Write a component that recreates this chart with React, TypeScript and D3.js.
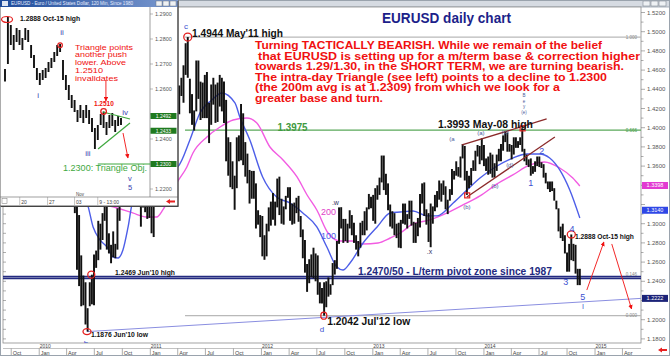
import React from 'react';
import * as d3 from 'd3';

const FONT = "'Liberation Sans', Arial, Helvetica, sans-serif";

// ---------- main chart: weekly high / low of EURUSD ----------
const start2009 = '2009-09-07';
const high2009 = [1.4630,1.4770,1.4844,1.4700,1.4840,1.4970,1.5060,1.5050,1.4950,1.5050,1.5000,1.5144,1.5100,1.4880,1.4700,1.4420,1.4510];
const low2009 = [1.4350,1.4530,1.4580,1.4480,1.4620,1.4760,1.4850,1.4630,1.4700,1.4850,1.4830,1.4830,1.4950,1.4600,1.4300,1.4220,1.4250];

const start2010 = '2010-01-04';
const high2010 = [1.4450,1.4580,1.4420,1.4180,1.4010,1.3790,1.3780,1.3690,1.3690,1.3790,1.3820,1.3650,1.3590,1.3650,1.3690,1.3520,1.3380,1.3310,1.3090,1.2670,1.2460,1.2390,1.2120,1.2390,1.2469,1.2680,1.2720,1.3030,1.3000,1.3110,1.3333,1.3280,1.2900,1.2780,1.2920,1.2790,1.3160,1.3540,1.3790,1.4030,1.4160,1.4030,1.3970,1.4282,1.4130,1.3790,1.3790,1.3440,1.3460,1.3440,1.3240,1.3440];
const low2010 = [1.4250,1.4370,1.4030,1.3860,1.3630,1.3580,1.3440,1.3440,1.3500,1.3600,1.3530,1.3270,1.3390,1.3290,1.3420,1.3310,1.3110,1.2520,1.2350,1.2140,1.2150,1.1950,1.1876,1.2140,1.2160,1.2150,1.2540,1.2620,1.2730,1.2830,1.3030,1.2730,1.2690,1.2588,1.2650,1.2640,1.2730,1.3030,1.3500,1.3760,1.3820,1.3700,1.3700,1.3860,1.3650,1.3450,1.3230,1.2969,1.3170,1.3120,1.3050,1.3060];

const start2011 = '2011-01-03';
const high2011 = [1.3440,1.3460,1.3710,1.3760,1.3860,1.3730,1.3700,1.3830,1.4030,1.4070,1.4240,1.4250,1.4260,1.4440,1.4520,1.4650,1.4880,1.4944,1.4510,1.4350,1.4180,1.4700,1.4700,1.4480,1.4470,1.4550,1.4580,1.4260,1.4450,1.4520,1.4450,1.4470,1.4550,1.4520,1.4480,1.4290,1.3900,1.3850,1.3650,1.3500,1.3900,1.3920,1.4247,1.4150,1.3850,1.3730,1.3560,1.3550,1.3550,1.3420,1.3140,1.3090];
const low2011 = [1.2900,1.2861,1.3280,1.3530,1.3550,1.3440,1.3430,1.3480,1.3640,1.3820,1.3740,1.4030,1.4000,1.4140,1.4330,1.4260,1.4550,1.4520,1.4150,1.4030,1.3970,1.4170,1.4300,1.4080,1.4100,1.4100,1.4100,1.3840,1.4030,1.4240,1.4050,1.4060,1.4220,1.4170,1.4050,1.3650,1.3500,1.3380,1.3360,1.3145,1.3370,1.3650,1.3660,1.3610,1.3490,1.3420,1.3210,1.3260,1.3260,1.2950,1.2990,1.2860];

const start2012 = '2012-01-02';
const high2012 = [1.3080,1.2880,1.3000,1.3170,1.3230,1.3320,1.3230,1.3470,1.3490,1.3260,1.3180,1.3290,1.3380,1.3380,1.3210,1.3220,1.3270,1.3290,1.3080,1.2940,1.2830,1.2580,1.2630,1.2680,1.2750,1.2690,1.2670,1.2390,1.2330,1.2390,1.2400,1.2440,1.2370,1.2590,1.2620,1.2820,1.3170,1.3172,1.3050,1.3050,1.3000,1.3140,1.3090,1.3010,1.2880,1.2820,1.3010,1.3030,1.3130,1.3170,1.3310,1.3280];
const low2012 = [1.2660,1.2624,1.2660,1.2920,1.2980,1.3040,1.2980,1.3170,1.3090,1.3000,1.2990,1.3150,1.3270,1.3030,1.2990,1.3000,1.3110,1.3020,1.2860,1.2640,1.2490,1.2290,1.2380,1.2440,1.2430,1.2400,1.2260,1.2170,1.2170,1.2042,1.2130,1.2240,1.2260,1.2360,1.2470,1.2530,1.2790,1.2950,1.2800,1.2820,1.2800,1.2950,1.2880,1.2800,1.2730,1.2660,1.2750,1.2880,1.2880,1.2930,1.3150,1.3160];

const start2013 = '2012-12-31';
const high2013 = [1.3300,1.3370,1.3400,1.3480,1.3710,1.3710,1.3520,1.3420,1.3200,1.3130,1.3110,1.3000,1.3010,1.3040,1.3210,1.3210,1.3100,1.3240,1.3240,1.3020,1.3010,1.3060,1.3310,1.3420,1.3430,1.3150,1.3110,1.3210,1.3180,1.3300,1.3340,1.3450,1.3420,1.3450,1.3390,1.3250,1.3360,1.3570,1.3550,1.3650,1.3590,1.3700,1.3830,1.3810,1.3550,1.3500,1.3580,1.3660,1.3760,1.3820,1.3810,1.3890];
const low2013 = [1.3030,1.3000,1.3250,1.3300,1.3430,1.3350,1.3300,1.3140,1.2970,1.2950,1.2880,1.2850,1.2750,1.2745,1.3000,1.2990,1.2950,1.3050,1.2980,1.2800,1.2800,1.2870,1.2960,1.3210,1.3080,1.2990,1.2810,1.2755,1.3000,1.3130,1.3170,1.3250,1.3230,1.3300,1.3150,1.3100,1.3240,1.3300,1.3460,1.3500,1.3490,1.3480,1.3680,1.3450,1.3300,1.3370,1.3400,1.3550,1.3550,1.3700,1.3620,1.3660];

const start2014 = '2013-12-30';
const high2014 = [1.3820,1.3680,1.3700,1.3740,1.3720,1.3630,1.3720,1.3780,1.3830,1.3920,1.3967,1.3950,1.3830,1.3820,1.3900,1.3900,1.3860,1.3900,1.3993,1.3780,1.3720,1.3670,1.3680,1.3600,1.3650,1.3700,1.3700,1.3640,1.3620,1.3530,1.3440,1.3440,1.3440,1.3370,1.3240,1.3160,1.2970,1.3000,1.2880,1.2700,1.2790,1.2888,1.2790,1.2780,1.2530,1.2530];
const low2014 = [1.3600,1.3550,1.3510,1.3520,1.3480,1.3480,1.3550,1.3650,1.3650,1.3760,1.3850,1.3750,1.3750,1.3670,1.3720,1.3790,1.3790,1.3820,1.3750,1.3650,1.3610,1.3590,1.3500,1.3520,1.3540,1.3600,1.3590,1.3580,1.3480,1.3420,1.3360,1.3330,1.3340,1.3240,1.3150,1.2920,1.2850,1.2820,1.2690,1.2500,1.2500,1.2620,1.2610,1.2480,1.2360,1.2360];

// ---------- moving averages ----------
const ma100Dates = ['2010-05-15','2010-06-07','2010-06-27','2010-07-20','2010-08-12','2010-09-01','2010-09-17','2010-10-03','2010-10-20','2010-11-05','2010-12-14','2011-02-01','2011-04-01','2011-05-11','2011-06-13','2011-07-22','2011-08-24','2011-10-06','2011-10-22','2011-11-24','2012-01-05','2012-02-20','2012-04-03','2012-05-16','2012-07-01','2012-08-03','2012-09-05','2012-09-25','2012-10-18','2012-11-30','2013-01-15','2013-02-27','2013-04-01','2013-05-13','2013-06-28','2013-07-31','2013-09-22','2013-11-06','2013-12-19','2014-02-13','2014-04-06','2014-05-22','2014-07-03','2014-08-05','2014-09-07','2014-10-10','2014-11-12'];
const ma100Values = [1.3299,1.3216,1.2966,1.2830,1.2757,1.2653,1.2643,1.2726,1.2966,1.3247,1.3404,1.3508,1.3591,1.3872,1.4153,1.4289,1.4362,1.4258,1.4112,1.3872,1.3487,1.3278,1.3216,1.3112,1.2966,1.2757,1.2549,1.2518,1.2591,1.2799,1.2966,1.3112,1.3122,1.3133,1.3081,1.3081,1.3216,1.3351,1.3476,1.3601,1.3684,1.3726,1.3726,1.3684,1.3560,1.3351,1.3060];
const ma200Dates = ['2010-08-21','2010-09-13','2010-11-04','2010-12-20','2011-01-22','2011-02-11','2011-03-06','2011-03-29','2011-05-01','2011-05-21','2011-07-06','2011-08-18','2011-09-30','2011-11-14','2011-12-17','2012-01-29','2012-03-12','2012-04-27','2012-05-30','2012-07-01','2012-08-07','2012-09-16','2012-10-25','2012-11-30','2013-01-18','2013-02-27','2013-04-01','2013-05-13','2013-07-08','2013-09-02','2013-10-24','2013-12-19','2014-02-13','2014-04-06','2014-06-01','2014-07-19','2014-09-07','2014-10-20','2014-11-12'];
const ma200Values = [1.3184,1.3164,1.3112,1.3070,1.3070,1.3143,1.3279,1.3424,1.3591,1.3736,1.3903,1.4007,1.4080,1.4101,1.4049,1.3799,1.3664,1.3487,1.3299,1.3143,1.2903,1.2820,1.2820,1.2789,1.2799,1.2851,1.2903,1.2997,1.3039,1.3112,1.3195,1.3289,1.3414,1.3508,1.3612,1.3643,1.3580,1.3476,1.3393];

// ---------- levels & annotations ----------
const fibLevels = [1.4944, 1.3975, 1.2042];
const fibNames = ['1.000', '0.666', '0.000'];
const fibStart = '2011-04-25';
const pivotLevels = [1.2450, 1.2430];
const trendDates = ['2010-06-07', '2015-06-01'];
const trendValues = [1.1876, 1.2222];
const channelUpperDates = ['2013-10-21', '2014-07-26'];
const channelUpperValues = [1.3820, 1.4091];
const channelLowerDates = ['2013-11-06', '2014-08-22'];
const channelLowerValues = [1.3278, 1.3903];
const arrowUpDates = ['2014-12-05', '2015-01-30'];
const arrowUpValues = [1.2309, 1.2809];
const arrowDownDates = ['2015-02-25', '2015-05-01'];
const arrowDownValues = [1.2789, 1.2112];

const yTickValues = [1.52,1.50,1.48,1.46,1.44,1.42,1.40,1.38,1.36,1.34,1.32,1.30,1.28,1.26,1.24,1.22,1.20,1.18];
const yearLabels = ['2010','2011','2012','2013','2014','2015'];

const axisBoxValues = [1.3398, 1.3140, 1.2222];
const axisBoxColors = ['#e23ad2', '#2f47e6', '#1c2378'];

const circleMarks = [
  { date: '2011-05-04', value: 1.4944, rx: 4, ry: 4 },
  { date: '2010-06-07', value: 1.1876, rx: 4, ry: 3 },
  { date: '2010-06-21', value: 1.2469, rx: 3.5, ry: 3.5 },
  { date: '2012-07-24', value: 1.2042, rx: 3, ry: 3.5 },
  { date: '2014-10-15', value: 1.2888, rx: 4, ry: 3.5 },
];
const squareMarks = [
  { date: '2013-11-07', value: 1.3295 },
  { date: '2014-05-08', value: 1.3993 },
];

const waveLabels = [
  { text: 'c', date: '2011-04-28', value: 1.5028, size: 8, color: '#3b4fd0' },
  { text: 'b', date: '2010-06-04', value: 1.1726, size: 8, color: '#3b4fd0' },
  { text: 'd', date: '2012-07-18', value: 1.1872, size: 8, color: '#3b4fd0' },
  { text: '1', date: '2014-06-04', value: 1.3393, size: 9, color: '#3b4fd0' },
  { text: '2', date: '2014-07-10', value: 1.3727, size: 9, color: '#3b4fd0' },
  { text: '3', date: '2014-09-27', value: 1.2362, size: 9, color: '#3b4fd0' },
  { text: '4', date: '2014-10-17', value: 1.2914, size: 9, color: '#3b4fd0' },
  { text: '5', date: '2014-11-22', value: 1.2205, size: 9, color: '#3b4fd0' },
  { text: 'I', date: '2014-11-22', value: 1.2111, size: 7, color: '#3b4fd0' },
  { text: '(a', date: '2013-09-18', value: 1.3866, size: 6, color: '#4a5a9a' },
  { text: '(a)', date: '2013-12-22', value: 1.3924, size: 6, color: '#4a5a9a' },
  { text: '(c)', date: '2014-03-11', value: 1.3938, size: 6, color: '#4a5a9a' },
  { text: '(b)', date: '2013-11-06', value: 1.3148, size: 6, color: '#4a5a9a' },
  { text: '(b)', date: '2014-02-06', value: 1.3372, size: 6, color: '#4a5a9a' },
  { text: '(d)', date: '2014-03-27', value: 1.3591, size: 6, color: '#4a5a9a' },
  { text: 'B', date: '2014-05-13', value: 1.4317, size: 4.5, color: '#4a5a9a' },
  { text: 'e', date: '2014-05-13', value: 1.4259, size: 4.5, color: '#4a5a9a' },
  { text: 'y', date: '2014-05-13', value: 1.4202, size: 4.5, color: '#4a5a9a' },
  { text: '(e)', date: '2014-05-13', value: 1.4145, size: 4.5, color: '#4a5a9a' },
  { text: '.w', date: '2012-08-31', value: 1.3195, size: 7, color: '#333366' },
  { text: '.x', date: '2013-07-06', value: 1.2685, size: 7, color: '#333366' },
];

const levelLabels = [
  { text: "1.4944 May'11 high", date: '2011-05-18', value: 1.4950, size: 10, len: 91, color: '#111' },
  { text: '1.3993 May-08 high', date: '2013-08-03', value: 1.4000, size: 10, len: 95, color: '#111' },
  { text: "1.2042 Jul'12 low", date: '2012-08-04', value: 1.1940, size: 10, len: 83, color: '#111' },
  { text: "1.2469 Jun'10 high", date: '2010-09-07', value: 1.2466, size: 7, len: 60, color: '#111' },
  { text: "1.1876 Jun'10 low", date: '2010-06-20', value: 1.1825, size: 7, len: 57, color: '#111' },
  { text: '1.2888 Oct-15 high', date: '2014-10-27', value: 1.2836, size: 7, len: 59, color: '#111' },
  { text: '1.2470/50 - L/term pivot zone since 1987', date: '2012-11-13', value: 1.2466, size: 10, len: 194, color: '#232a80' },
  { text: '1.3975', date: '2012-02-23', value: 1.3966, size: 10, len: 30, color: '#3f9a3f' },
];
const maLabels = [
  { text: '200', date: '2012-07-15', value: 1.3090, color: '#e040c8' },
  { text: '100', date: '2012-07-15', value: 1.2840, color: '#4d5ee8' },
];

const paragraph = [
  'Turning TACTICALLY BEARISH. While we remain of the belief',
  'that EURUSD is setting up for a m/term base & correction higher',
  'towards 1.29/1.30, in the SHORT TERM, we are turning bearish.',
  'The intra-day Triangle (see left) points to a decline to 1.2300',
  '(the 200m avg is at 1.2309) from which we look for a',
  'greater base and turn.',
];
const paragraphX = [255, 258, 255, 255, 255, 255];
const paragraphLen = [347, 382, 369, 352, 305, 128];

// ---------- inset: 120-minute EURUSD ----------
const insetHigh = [1.2680,1.2888,1.2856,1.2816,1.2844,1.2836,1.2804,1.2844,1.2836,1.2776,1.2736,1.2684,1.2664,1.2676,1.2684,1.2708,1.2724,1.2748,1.2776,1.2780,1.2716,1.2656,1.2616,1.2576,1.2556,1.2516,1.2536,1.2516,1.2536,1.2516,1.2484,1.2444,1.2456,1.2500,1.2510,1.2468,1.2496,1.2504,1.2476,1.2492,1.2484];
const insetLow = [1.2630,1.2700,1.2776,1.2756,1.2788,1.2776,1.2756,1.2796,1.2788,1.2724,1.2684,1.2636,1.2616,1.2636,1.2644,1.2668,1.2684,1.2708,1.2732,1.2748,1.2636,1.2596,1.2556,1.2524,1.2508,1.2468,1.2484,1.2464,1.2484,1.2460,1.2428,1.2360,1.2396,1.2456,1.2444,1.2416,1.2444,1.2452,1.2428,1.2452,1.2456];
const insetTicks = [1.29, 1.28, 1.27, 1.26, 1.25, 1.24, 1.23, 1.22];
const insetBoxValues = [1.2492, 1.2433, 1.2300];
const insetTriUpperIdx = [33.8, 43.1];
const insetTriUpperVal = [1.2508, 1.2480];
const insetTriLowerIdx = [32.1, 43.1];
const insetTriLowerVal = [1.2360, 1.2464];
const insetWaveLabels = [
  { text: 'i', idx: 11.4, value: 1.2564, size: 8 },
  { text: 'ii', idx: 19.7, value: 1.2816, size: 8 },
  { text: 'iii', idx: 28.6, value: 1.2332, size: 8 },
  { text: 'iv', idx: 41.4, value: 1.2496, size: 8 },
  { text: 'v', idx: 43.1, value: 1.2232, size: 7.5 },
  { text: '5', idx: 43.1, value: 1.2198, size: 7.5 },
];
const insetNote = ['Triangle points', 'another push', 'lower. Above', '1.2510', 'invalidates'];
const insetNoteLen = [58, 52, 51, 28, 43];
const insetDateLabels = ['20', '27', '03', '9 - 13:00'];
const insetDateIdx = [5.6, 15.2, 24.5, 32.5];

const fmt4 = d3.format('.4f');

export default function App() {
  const parse = d3.timeParse('%Y-%m-%d');
  const D = (s: string) => parse(s) as Date;

  const x = d3.scaleTime().domain([D('2009-09-04'), D('2015-06-01')]).range([3, 641]);
  const y = d3.scaleLinear().domain([1.52, 1.18]).range([12.5, 338.9]);

  const segments = [
    { start: start2009, hi: high2009, lo: low2009 },
    { start: start2010, hi: high2010, lo: low2010 },
    { start: start2011, hi: high2011, lo: low2011 },
    { start: start2012, hi: high2012, lo: low2012 },
    { start: start2013, hi: high2013, lo: low2013 },
    { start: start2014, hi: high2014, lo: low2014 },
  ];
  const bars = segments.flatMap((s) =>
    s.hi.map((h, i) => ({ date: d3.timeDay.offset(D(s.start), i * 7 + 2), hi: h, lo: s.lo[i] }))
  );

  const curve = d3.line<[Date, number]>().x((d) => x(d[0])).y((d) => y(d[1])).curve(d3.curveMonotoneX);
  const straight = d3.line<[Date, number]>().x((d) => x(d[0])).y((d) => y(d[1]));
  const ma100 = ma100Dates.map((d, i) => [D(d), ma100Values[i]] as [Date, number]);
  const ma200 = ma200Dates.map((d, i) => [D(d), ma200Values[i]] as [Date, number]);
  const pairs = (ds: string[], vs: number[]) => ds.map((d, i) => [D(d), vs[i]] as [Date, number]);

  const quarters = d3.timeMonth.every(3)!.range(D('2009-10-01'), D('2015-05-01'));
  const minorTicks = d3.range(118, 153).map((v) => v / 100);

  const plotL = 3, plotR = 641, plotT = 7, plotB = 343;

  // inset scales
  const ix = d3.scaleLinear().domain([0, 40]).range([5, 121]);
  const iy = d3.scaleLinear().domain([1.29, 1.22]).range([14, 189]);

  const mainAxisLabels = yTickValues.filter((v) => axisBoxValues.every((b) => Math.abs(y(b) - y(v)) > 6));
  const insetAxisLabels = insetTicks.filter((v) => insetBoxValues.every((b) => Math.abs(iy(b) - iy(v)) > 6));

  const red = '#f01010';

  return (
    <svg width={670} height={356} style={{ position: 'fixed', left: 0, top: 0, display: 'block', background: '#fff' }} fontFamily={FONT}>
      <defs>
        <clipPath id="plotClip"><rect x={plotL} y={plotT} width={plotR - plotL} height={plotB - plotT} /></clipPath>
        <clipPath id="insetClip"><rect x={1} y={7} width={149} height={190} /></clipPath>
        <marker id="arrRed" viewBox="0 0 10 10" refX={9} refY={5} markerWidth={5} markerHeight={5} orient="auto">
          <path d="M0,0 L10,5 L0,10 z" fill={red} />
        </marker>
        <linearGradient id="insetBar" x1="0" x2="1" y1="0" y2="0">
          <stop offset="0" stopColor="#1d4a9a" />
          <stop offset="1" stopColor="#7c9ad0" />
        </linearGradient>
      </defs>

      {/* window chrome */}
      <rect x={0} y={0} width={670} height={356} fill="#fff" />
      <rect x={0} y={0} width={670} height={7} fill="#d6dbe2" />
      <line x1={0} x2={670} y1={7} y2={7} stroke="#98a1ad" strokeWidth={0.8} />
      {[643, 651, 659].map((bx, i) => (
        <rect key={i} x={bx} y={1} width={7} height={5} fill="#eef1f4" stroke="#6f7884" strokeWidth={0.5} />
      ))}

      {/* plot frame */}
      <rect x={plotL} y={plotT} width={plotR - plotL} height={plotB - plotT} fill="#fff" stroke="#8d8d8d" strokeWidth={0.8} />
      {minorTicks.map((v, i) => (
        <g key={i}>
          <line x1={plotL} x2={plotL + 3} y1={y(v)} y2={y(v)} stroke="#777" strokeWidth={0.6} />
          <line x1={plotR} x2={plotR + (Math.round(v * 100) % 2 === 0 ? 4 : 2.5)} y1={y(v)} y2={y(v)} stroke="#777" strokeWidth={0.6} />
        </g>
      ))}

      <g clipPath="url(#plotClip)">
        {/* fib levels */}
        {fibLevels.map((v, i) => (
          <line key={i} x1={x(D(fibStart))} x2={plotR} y1={y(v)} y2={y(v)}
            stroke={i === 1 ? '#5aa85a' : '#b9b9b9'} strokeWidth={i === 1 ? 1.4 : 1.1} />
        ))}
        {/* pivot zone */}
        {pivotLevels.map((v, i) => (
          <line key={i} x1={plotL} x2={plotR} y1={y(v)} y2={y(v)} stroke="#232a80" strokeWidth={1.6} />
        ))}
        {/* long-term trendline */}
        <path d={straight(pairs(trendDates, trendValues))!} stroke="#8a8ee0" strokeWidth={1} fill="none" />

        {/* moving averages */}
        <path d={curve(ma200)!} stroke="#f25ce2" strokeWidth={1.4} fill="none" />
        <path d={curve(ma100)!} stroke="#4d5ee8" strokeWidth={1.4} fill="none" />

        {/* price bars */}
        {bars.map((b, i) => (
          <line key={i} x1={x(b.date)} x2={x(b.date)} y1={y(b.hi)} y2={y(b.lo)} stroke="#111" strokeWidth={1.95} />
        ))}

        {/* channel */}
        <path d={straight(pairs(channelUpperDates, channelUpperValues))!} stroke="#8b2a2a" strokeWidth={1.3} fill="none" />
        <path d={straight(pairs(channelLowerDates, channelLowerValues))!} stroke="#8b2a2a" strokeWidth={1.3} fill="none" />

        {/* projection arrows */}
        <path d={straight(pairs(arrowUpDates, arrowUpValues))!} stroke={red} strokeWidth={0.9} fill="none" markerEnd="url(#arrRed)" />
        <path d={straight(pairs(arrowDownDates, arrowDownValues))!} stroke={red} strokeWidth={0.9} fill="none" markerEnd="url(#arrRed)" />

        {/* red markers */}
        {circleMarks.map((c, i) => (
          <ellipse key={i} cx={x(D(c.date))} cy={y(c.value)} rx={c.rx} ry={c.ry} fill="none" stroke="#e42020" strokeWidth={1.3} />
        ))}
        {squareMarks.map((c, i) => (
          <rect key={i} x={x(D(c.date)) - 2.5} y={y(c.value) - 2.5} width={5} height={5} fill="none" stroke="#e42020" strokeWidth={1.2} />
        ))}

        {/* fib labels */}
        {fibLevels.map((v, i) => (
          <text key={i} x={637} y={y(v) + 1.5} fontSize={4.5} textAnchor="end" fill={i === 1 ? '#3f9a3f' : '#888'}>{fibNames[i]}</text>
        ))}
        <text x={637} y={y(pivotLevels[0]) - 0.5} fontSize={4.5} textAnchor="end" fill="#888">0.146</text>

        {/* labels */}
        {levelLabels.map((l, i) => (
          <text key={i} x={x(D(l.date))} y={y(l.value)} fontSize={l.size} fontWeight="bold" fill={l.color}
            textLength={l.len} lengthAdjust="spacingAndGlyphs">{l.text}</text>
        ))}
        {maLabels.map((l, i) => (
          <text key={i} x={x(D(l.date))} y={y(l.value)} fontSize={9} fill={l.color}>{l.text}</text>
        ))}
        {waveLabels.map((l, i) => (
          <text key={i} x={x(D(l.date))} y={y(l.value)} fontSize={l.size} textAnchor="middle" fill={l.color}>{l.text}</text>
        ))}
      </g>

      {/* title and commentary */}
      <text x={382} y={23} fontSize={14} fontWeight="bold" fill="#1c1f8a" textLength={129} lengthAdjust="spacingAndGlyphs">EURUSD daily chart</text>
      {paragraph.map((line, i) => (
        <text key={i} x={paragraphX[i]} y={49 + i * 10.6} fontSize={11.2} fontWeight="bold" fill={red}
          textLength={paragraphLen[i]} lengthAdjust="spacingAndGlyphs">{line}</text>
      ))}

      {/* right axis */}
      {mainAxisLabels.map((v, i) => (
        <text key={i} x={647} y={y(v) + 2} fontSize={6} fill="#555">{fmt4(v)}</text>
      ))}
      {axisBoxValues.map((v, i) => (
        <g key={i}>
          <rect x={642} y={y(v) - 3.5} width={26} height={7} fill={axisBoxColors[i]} />
          <text x={655} y={y(v) + 2} fontSize={5.5} fill="#fff" textAnchor="middle">{fmt4(v)}</text>
        </g>
      ))}

      {/* bottom axis */}
      <line x1={plotL} x2={plotR} y1={348.5} y2={348.5} stroke="#999" strokeWidth={0.6} />
      {yearLabels.map((yr, i) => (
        <text key={i} x={x(D(`${yr}-01-01`)) + 0.5} y={347.5} fontSize={5} fill="#444">{yr}</text>
      ))}
      {quarters.map((q, i) => (
        <g key={i}>
          <line x1={x(q)} x2={x(q)} y1={348.5} y2={355.5} stroke="#777" strokeWidth={0.6} />
          <text x={x(q) + 1.5} y={354.5} fontSize={5.5} fill="#444">{d3.timeFormat('%b')(q)}</text>
        </g>
      ))}
      <path d="M658,350 l4,-2.5 v1.5 h5 v2 h-5 v1.5 z" fill="#e82020" />
      <rect x={0.5} y={0.5} width={669} height={355} fill="none" stroke="#9aa3ad" strokeWidth={1} />

      {/* ================= inset ================= */}
      <g>
        <rect x={0} y={0} width={178} height={206} fill="#fff" stroke="#5a5a5a" strokeWidth={1} />
        <rect x={0} y={0} width={178} height={7} fill="url(#insetBar)" />
        <rect x={2} y={1} width={6} height={5} fill="#dfe6f3" />
        <text x={11} y={5.3} fontSize={4.6} fill="#e8eeff">EURUSD - Euro / United States Dollar, 120 Min, Since 1980</text>
        {[156, 163, 170].map((bx, i) => (
          <rect key={i} x={bx} y={1} width={6} height={5} fill="#eef1f4" stroke="#6f7884" strokeWidth={0.5} />
        ))}
        <line x1={150} x2={150} y1={7} y2={197} stroke="#777" strokeWidth={0.7} />
        <line x1={0} x2={178} y1={197} y2={197} stroke="#777" strokeWidth={0.7} />

        {insetTicks.map((v, i) => (
          <line key={i} x1={150} x2={153} y1={iy(v)} y2={iy(v)} stroke="#777" strokeWidth={0.5} />
        ))}
        {insetAxisLabels.map((v, i) => (
          <text key={i} x={155} y={iy(v) + 2} fontSize={5.5} fill="#555">{fmt4(v)}</text>
        ))}

        <g clipPath="url(#insetClip)">
          {insetHigh.map((h, i) => (
            <line key={i} x1={ix(i)} x2={ix(i)} y1={iy(h)} y2={iy(insetLow[i])} stroke="#111" strokeWidth={1.9} />
          ))}
          {/* triangle */}
          <line x1={ix(insetTriUpperIdx[0])} x2={ix(insetTriUpperIdx[1])} y1={iy(insetTriUpperVal[0])} y2={iy(insetTriUpperVal[1])} stroke="#3ea83e" strokeWidth={1.2} />
          <line x1={ix(insetTriLowerIdx[0])} x2={ix(insetTriLowerIdx[1])} y1={iy(insetTriLowerVal[0])} y2={iy(insetTriLowerVal[1])} stroke="#3ea83e" strokeWidth={1.2} />
          <line x1={ix(32)} x2={150} y1={iy(1.23)} y2={iy(1.23)} stroke="#3ea83e" strokeWidth={1} />
          {/* arrows */}
          <line x1={ix(34.8)} x2={ix(34.8)} y1={iy(1.2636)} y2={iy(1.2552)} stroke={red} strokeWidth={0.9} markerEnd="url(#arrRed)" />
          <line x1={ix(40.7)} x2={ix(42.4)} y1={iy(1.2424)} y2={iy(1.2324)} stroke={red} strokeWidth={0.9} markerEnd="url(#arrRed)" />
          {/* markers */}
          <ellipse cx={ix(0.7)} cy={iy(1.2878)} rx={5.5} ry={3} fill="none" stroke="#e42020" strokeWidth={1.2} />
          <circle cx={ix(19)} cy={iy(1.2775)} r={2.3} fill="none" stroke="#e42020" strokeWidth={1.2} />
          <circle cx={ix(34)} cy={iy(1.2510)} r={2.8} fill="none" stroke="#e42020" strokeWidth={1.3} />
          {/* labels */}
          <text x={ix(5.2)} y={iy(1.2874)} fontSize={7} fontWeight="bold" fill="#111" textLength={60} lengthAdjust="spacingAndGlyphs">1.2888 Oct-15 high</text>
          <text x={ix(34.1)} y={iy(1.2534)} fontSize={6.5} fontWeight="bold" fill={red} textAnchor="middle">1.2510</text>
          {insetWaveLabels.map((l, i) => (
            <text key={i} x={ix(l.idx)} y={iy(l.value)} fontSize={l.size} textAnchor="middle" fill="#3a3fb0">{l.text}</text>
          ))}
          {insetNote.map((t, i) => (
            <text key={i} x={75} y={49.5 + i * 7.8} fontSize={7.3} fill={red}
              textLength={insetNoteLen[i]} lengthAdjust="spacingAndGlyphs">{t}</text>
          ))}
          <text x={63} y={171} fontSize={8.3} fill="#3ea83e" textLength={84} lengthAdjust="spacingAndGlyphs">1.2300: Triangle Obj.</text>
          <text x={ix(24.5)} y={196} fontSize={4.5} fill="#444">Nov</text>
        </g>

        {insetBoxValues.map((v, i) => (
          <g key={i}>
            <rect x={150.5} y={iy(v) - 3} width={26} height={6} fill="#1f7a1f" />
            <text x={163.5} y={iy(v) + 1.8} fontSize={5} fill="#fff" textAnchor="middle">{fmt4(v)}</text>
          </g>
        ))}

        {insetDateLabels.map((t, i) => (
          <g key={i}>
            <line x1={ix(insetDateIdx[i]) - 1.5} x2={ix(insetDateIdx[i]) - 1.5} y1={197} y2={205} stroke="#888" strokeWidth={0.5} />
            <text x={ix(insetDateIdx[i])} y={203.5} fontSize={5} fill="#444">{t}</text>
          </g>
        ))}
        <rect x={2} y={198.5} width={5} height={5} fill="none" stroke="#777" strokeWidth={0.5} />
        <path d="M166,201.5 l4,-2.5 v1.5 h5 v2 h-5 v1.5 z" fill="#e82020" />
        <line x1={178} x2={178} y1={1} y2={207} stroke="#444" strokeWidth={1} />
        <line x1={1} x2={178} y1={206.5} y2={206.5} stroke="#444" strokeWidth={1} />
      </g>
    </svg>
  );
}
